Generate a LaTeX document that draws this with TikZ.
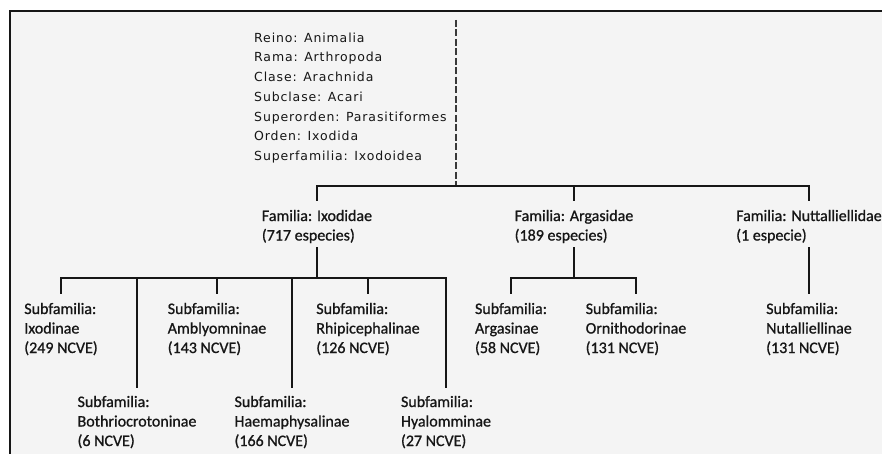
\documentclass[tikz,border=0pt]{standalone}
\usepackage{fontspec}
\newfontfamily\subfont[FakeBold=0.9]{Carlito}
\newfontfamily\upfont[LetterSpace=7]{DejaVu Sans}
\definecolor{bg}{HTML}{F4F4F4}
\definecolor{ink}{HTML}{161616}
\tikzset{
  sub/.style={font=\subfont\fontsize{16}{19.5}\selectfont, text=ink, align=left, inner sep=0pt, anchor=base},
  tax/.style={font=\upfont\fontsize{12.5}{19.7}\selectfont, text=ink, align=left, inner sep=0pt, anchor=base west},
  link/.style={draw=ink, line width=1.8pt},
  dashline/.style={draw=ink!85, line width=1.6pt, dash pattern=on 7pt off 2.5pt}
}
\begin{document}
\begin{tikzpicture}[x=1pt,y=-1pt]
\useasboundingbox (0,0) rectangle (882,454);
\fill[white] (0,0) rectangle (882,454);
\clip (0,0) rectangle (882,454);
\draw[fill=bg, draw=ink, line width=1.8pt] (10,11) rectangle (900,470);

% taxonomy text (anchor = baseline of the last line)
\node[tax] (tax) at (254,160.5) {Reino: Animalia\\Rama: Arthropoda\\Clase: Arachnida\\Subclase: Acari\\Superorden: Parasitiformes\\Orden: Ixodida\\Superfamilia: Ixodoidea};

% families
\node[sub] (ixo) at (317,240.5) {Familia: Ixodidae\\(717 especies)};
\node[sub] (arg) at (574,240.5) {Familia: Argasidae\\(189 especies)};
\node[sub] (nut) at (809,240.5) {Familia: Nuttalliellidae\\(1 especie)};

% Ixodidae subfamilies
\node[sub] (ixn) at (61,353) {Subfamilia:\\Ixodinae\\(249 NCVE)};
\node[sub] (amb) at (217,353) {Subfamilia:\\Amblyomninae\\(143 NCVE)};
\node[sub] (rhi) at (368,353) {Subfamilia:\\Rhipicephalinae\\(126 NCVE)};
\node[sub] (bot) at (137,446) {Subfamilia:\\Bothriocrotoninae\\(6 NCVE)};
\node[sub] (hae) at (292,446) {Subfamilia:\\Haemaphysalinae\\(166 NCVE)};
\node[sub] (hya) at (446,446) {Subfamilia:\\Hyalomminae\\(27 NCVE)};

% Argasidae subfamilies
\node[sub] (ags) at (511,353) {Subfamilia:\\Argasinae\\(58 NCVE)};
\node[sub] (orn) at (636,353) {Subfamilia:\\Ornithodorinae\\(131 NCVE)};

% Nuttalliellidae subfamily
\node[sub] (nul) at (809,353) {Subfamilia:\\Nutalliellinae\\(131 NCVE)};

% bus levels
\coordinate (dtop) at (456,20);
\coordinate (fbus) at (0,186);
\coordinate (ibus) at (0,278);
\coordinate (abus) at (0,278);

% dashed stem
\draw[dashline] (dtop) -- (dtop |- fbus);

% family bus
\draw[link] ([yshift=9pt]ixo.north) -- (ixo.north |- fbus) -- (nut.north |- fbus) -- ([yshift=9pt]nut.north);
\draw[link] (arg.north |- fbus) -- ([yshift=9pt]arg.north);

% Ixodidae tree
\draw[link] ([yshift=-4pt]ixo.south) -- (ixo.south |- ibus);
\draw[link] ([yshift=9pt]ixn.north) -- (ixn.north |- ibus) -- (hya.north |- ibus) -- ([yshift=8pt]hya.north);
\draw[link] (amb.north |- ibus) -- ([yshift=9pt]amb.north);
\draw[link] (rhi.north |- ibus) -- ([yshift=9pt]rhi.north);
\draw[link] (bot.north |- ibus) -- ([yshift=8pt]bot.north);
\draw[link] (hae.north |- ibus) -- ([yshift=8pt]hae.north);

% Argasidae tree
\draw[link] ([yshift=-4pt]arg.south) -- (arg.south |- abus);
\draw[link] ([yshift=9pt]ags.north) -- (ags.north |- abus) -- (orn.north |- abus) -- ([yshift=9pt]orn.north);

% Nuttalliellidae tree
\draw[link] ([yshift=-4pt]nut.south) -- ([yshift=9pt]nul.north);
\end{tikzpicture}
\end{document}
